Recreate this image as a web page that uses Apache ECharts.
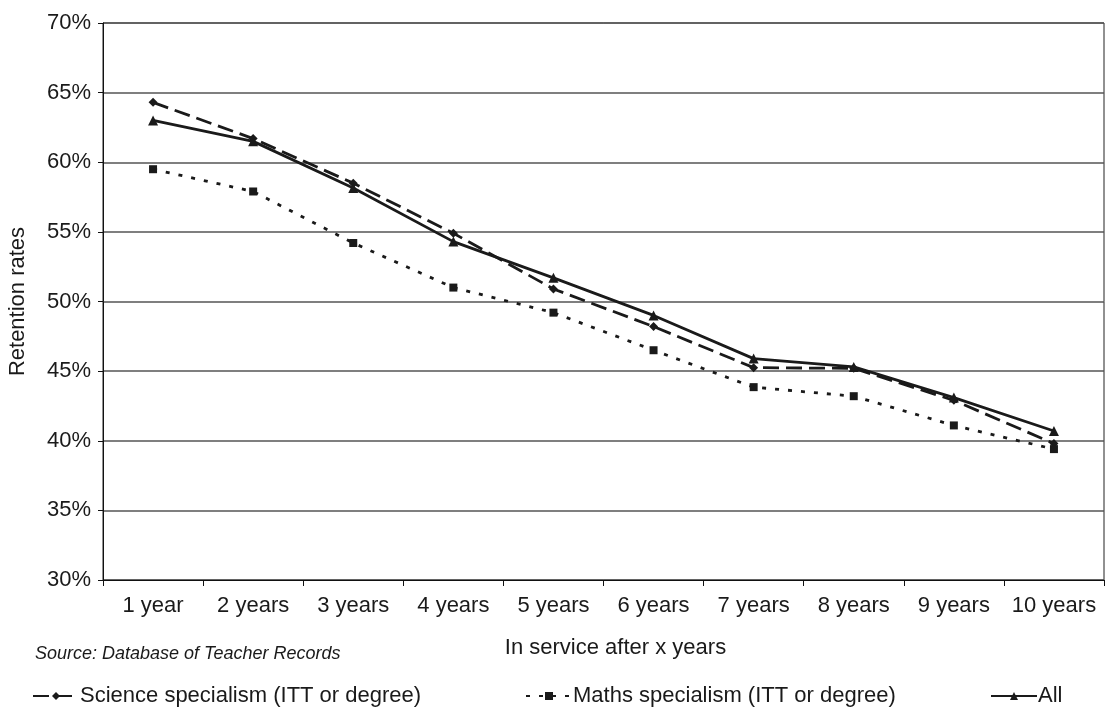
<!DOCTYPE html>
<html>
<head>
<meta charset="utf-8">
<script src="https://cdn.jsdelivr.net/npm/echarts@6/dist/echarts.min.js"></script>
<style>
  html, body { margin: 0; padding: 0; background: #fff; }
  #chart { width: 1120px; height: 716px; }
</style>
</head>
<body>
<div id="chart"></div>
<script>
const years = ['1 year', '2 years', '3 years', '4 years', '5 years', '6 years', '7 years', '8 years', '9 years', '10 years']
const science = [64.3, 61.7, 58.5, 54.9, 50.9, 48.2, 45.25, 45.2, 42.9, 39.8]
const maths = [59.5, 57.9, 54.2, 51.0, 49.2, 46.5, 43.85, 43.2, 41.1, 39.4]
const all = [63.0, 61.5, 58.15, 54.3, 51.7, 49.0, 45.9, 45.3, 43.1, 40.7]

const chart = echarts.init(document.getElementById('chart'))
const font = 'Liberation Sans, Arial, sans-serif'
const ink = '#1a1a1a'

const legendBase = {
  top: 680,
  itemWidth: 46,
  itemHeight: 10,
  itemGap: 0,
  textStyle: { fontFamily: font, fontSize: 22, color: ink, padding: [0, 0, 0, -4] }
}

chart.setOption({
  animation: false,
  grid: {
    left: 103,
    right: 16,
    top: 23,
    bottom: 136,
    outerBoundsMode: 'none',
    show: true,
    borderColor: '#222',
    borderWidth: 1
  },
  legend: [
    Object.assign({ left: 27, data: ['Science specialism (ITT or degree)'] }, legendBase),
    Object.assign({ left: 520, data: ['Maths specialism (ITT or degree)'] }, legendBase),
    Object.assign({ left: 985, data: ['All'] }, legendBase)
  ],
  graphic: [{
    type: 'text',
    left: 35,
    top: 645,
    style: {
      text: 'Source: Database of Teacher Records',
      font: 'italic 18px Liberation Sans, Arial, sans-serif',
      fill: ink
    }
  }],
  xAxis: {
    type: 'category',
    data: years,
    boundaryGap: true,
    name: 'In service after x years',
    nameLocation: 'middle',
    nameGap: 57,
    nameTextStyle: { fontFamily: font, fontSize: 22, color: ink, padding: [0, 0, 0, 24] },
    axisLine: { lineStyle: { color: '#111', width: 1 } },
    axisTick: { show: true, interval: 0, length: 6, lineStyle: { color: '#111' } },
    axisLabel: { interval: 0, margin: 15, fontFamily: font, fontSize: 22, color: ink }
  },
  yAxis: {
    type: 'value',
    min: 30,
    max: 70,
    interval: 5,
    name: 'Retention rates',
    nameLocation: 'middle',
    nameGap: 74,
    nameTextStyle: { fontFamily: font, fontSize: 22, color: ink },
    axisLine: { show: true, lineStyle: { color: '#111', width: 1 } },
    axisTick: { show: true, length: 5, lineStyle: { color: '#111' } },
    axisLabel: { formatter: '{value}%', margin: 12, fontFamily: font, fontSize: 22, color: ink },
    splitLine: { show: true, lineStyle: { color: '#555', width: 1.5 } }
  },
  series: [
    {
      name: 'Science specialism (ITT or degree)',
      type: 'line',
      data: science,
      symbol: 'diamond',
      symbolSize: 9,
      color: '#1a1a1a',
      lineStyle: { color: '#1a1a1a', width: 2.8, type: [16, 7] },
      itemStyle: { color: '#1a1a1a' }
    },
    {
      name: 'Maths specialism (ITT or degree)',
      type: 'line',
      data: maths,
      symbol: 'rect',
      symbolSize: 8,
      color: '#1a1a1a',
      lineStyle: { color: '#1a1a1a', width: 2.8, type: [4, 9] },
      itemStyle: { color: '#1a1a1a' }
    },
    {
      name: 'All',
      type: 'line',
      data: all,
      symbol: 'triangle',
      symbolSize: 10,
      color: '#1a1a1a',
      lineStyle: { color: '#1a1a1a', width: 2.8 },
      itemStyle: { color: '#1a1a1a' }
    }
  ]
})

window.addEventListener('resize', () => chart.resize())
</script>
</body>
</html>
